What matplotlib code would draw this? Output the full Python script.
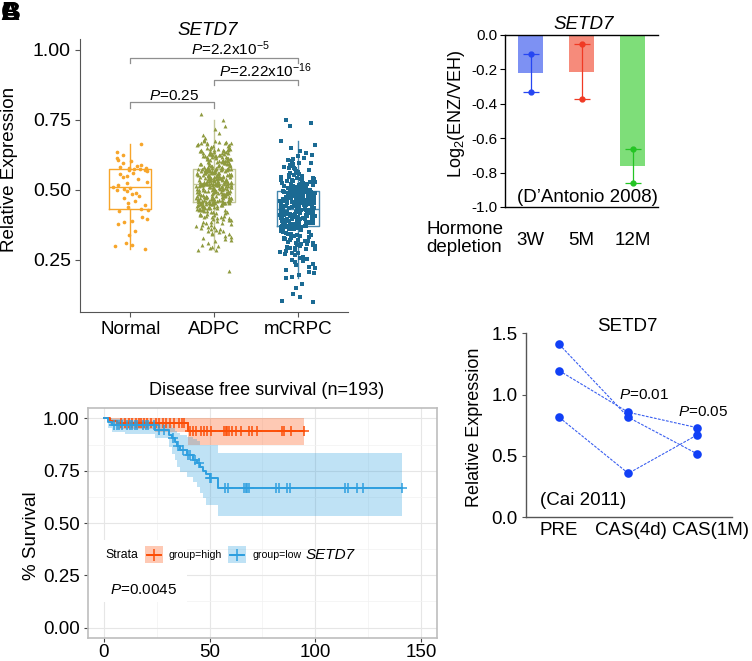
import numpy as np
import matplotlib
matplotlib.use("Agg")
import matplotlib.pyplot as plt
from matplotlib.patches import Rectangle

plt.rcParams['font.family'] = ['Liberation Sans', 'DejaVu Sans']
plt.rcParams['mathtext.fontset'] = 'custom'
plt.rcParams['mathtext.rm'] = 'Liberation Sans'
plt.rcParams['mathtext.it'] = 'Liberation Sans:italic'
plt.rcParams['axes.unicode_minus'] = False

# ---------------- data ----------------
# panel A: relative expression (x1000)
groupsA = ['Normal', 'ADPC', 'mCRPC']
normal = [290, 298, 305, 312, 340, 352, 378, 385, 390, 398, 405, 425, 428,
          432, 440, 448, 455, 462, 470, 478, 485, 490, 495, 500, 505, 508,
          512, 518, 525, 530, 538, 545, 550, 556, 562, 566, 570, 572, 574,
          576, 578, 580, 582, 585, 590, 598, 603, 608, 615, 625, 635, 665]
adpc = [210, 284, 287, 291, 296, 301, 305, 311, 316, 320, 325, 329, 333, 337, 341, 344, 347, 350,
        353, 355, 358, 360, 362, 365, 367, 369, 372, 374, 376, 378, 381, 383, 385, 387, 389, 391, 393, 395, 397, 399,
        400, 402, 403, 405, 406, 408, 409, 411, 412, 414, 415, 417, 418, 420, 421, 423, 424, 425, 427, 428,
        429, 430, 431, 432, 433, 434, 435, 436, 437, 438, 439, 440, 441, 442, 443, 444, 445, 446, 447, 448,
        449, 449, 450, 450, 451, 451, 452, 452, 453, 453, 454, 454, 455, 455, 456, 456, 457, 457, 457, 457,
        458, 459, 459, 460, 461, 461, 462, 463, 463, 464, 465, 465, 466, 467, 467, 468, 469, 469, 470, 471,
        471, 472, 473, 473, 474, 475, 475, 476, 477, 477, 478, 479, 479, 480, 481, 481, 482, 483, 483, 484,
        485, 485, 486, 487, 487, 488, 489, 489, 490, 491, 491, 492, 493, 493, 494, 495, 495, 496, 497, 497,
        498, 499, 499, 500, 501, 501, 502, 503, 503, 504, 505, 505, 506, 507, 507, 508, 509, 509, 510, 511,
        511, 512, 513, 513, 514, 515, 515, 516, 517, 517, 518, 518, 519, 519, 519, 520, 520, 520, 520, 520,
        521, 521, 522, 522, 523, 523, 524, 525, 525, 526, 526, 527, 528, 528, 529, 529, 530, 531, 531, 532,
        532, 533, 534, 534, 535, 535, 536, 537, 537, 538, 538, 539, 540, 540, 541, 541, 542, 543, 543, 544,
        544, 545, 546, 546, 547, 547, 548, 549, 549, 550, 550, 551, 552, 552, 553, 553, 554, 555, 555, 556,
        556, 557, 558, 558, 559, 559, 560, 561, 561, 562, 562, 563, 564, 564, 565, 565, 566, 567, 567, 568,
        568, 569, 569, 570, 570, 571, 571, 572, 572, 573, 573, 574, 574, 574, 575, 575, 575, 575, 575, 575,
        576, 577, 578, 579, 580, 581, 582, 583, 584, 585, 586, 587, 588, 589, 590, 591, 592, 593, 594, 595,
        596, 597, 598, 599, 600, 601, 602, 603, 604, 605, 606, 607, 608, 609, 610, 611, 612, 613, 614, 615,
        616, 617, 618, 619, 620, 621, 622, 623, 624, 625, 626, 627, 628, 629, 630, 631, 632, 633, 634, 635,
        636, 637, 638, 639, 640, 641, 642, 643, 644, 645, 646, 647, 648, 649, 650, 652, 654, 656, 658, 660,
        662, 664, 665, 666, 667, 668, 669, 670, 672, 674, 676, 678, 680, 685, 695, 705, 718, 730, 750, 770]
mcrpc = [100, 105, 118, 130, 150, 165,
         186, 190, 196, 202, 208, 214, 220, 226, 232, 237, 242, 246, 250, 254,
         258, 262, 266, 270, 273, 276, 279, 282, 285, 288, 290, 292, 294, 296, 298, 300, 302, 304, 306, 308,
         310, 312, 314, 316, 318, 320, 322, 324, 326, 328, 330, 332, 334, 336, 338, 340, 342, 344, 346, 348,
         350, 351, 353, 354, 356, 357, 359, 360, 362, 363, 364, 366, 367, 368, 369,
         370, 371, 372, 373, 373, 374, 375, 376, 377, 378, 378, 379, 380, 381, 382, 383, 383, 384, 385, 386,
         387, 388, 388, 389, 390, 391, 392, 393, 393, 394, 395, 396, 397, 398, 398, 399, 400, 401, 402, 403,
         403, 404, 405, 406, 407, 408, 408, 409, 410, 411, 412, 413, 413, 414, 415, 416, 417, 418, 418, 419,
         420, 421, 422, 423, 423, 424, 425, 426, 427, 428, 428, 429, 429, 430, 430,
         431, 432, 433, 434, 435, 436, 437, 437, 438, 439, 440, 441, 442, 443, 444, 445, 446, 446, 447, 448,
         449, 450, 451, 452, 453, 454, 455, 455, 456, 457, 458, 459, 460, 461, 462, 463, 464, 464, 465, 466,
         467, 468, 469, 470, 471, 472, 473, 473, 474, 475, 476, 477, 478, 479, 480, 481, 482, 482, 483, 484,
         485, 486, 487, 488, 489, 490, 491, 491, 492, 493, 493, 494, 494, 495, 495,
         496, 497, 498, 499, 500, 501, 502, 503, 504, 505, 506, 507, 508, 509, 510, 511, 512, 513, 514, 515,
         516, 518, 519, 520, 522, 523, 524, 526, 527, 528, 530, 531, 532, 534, 535, 536, 538, 540, 542, 544,
         545, 546, 548, 550, 553, 555, 556, 559, 562, 565, 568, 571, 574, 577, 580, 583, 586, 589, 592, 595,
         598, 602, 606, 610, 615, 620, 626, 632, 640, 650, 660, 675, 730, 740, 750]
pvalsA = [r'$\it{P}$=0.25', r'$\it{P}$=2.22x10$^{-16}$', r'$\it{P}$=2.2x10$^{-5}$']

# panel B: log2(ENZ/VEH)
groupsB = ['3W', '5M', '12M']
meanB = [-0.222, -0.213, -0.761]
errB = [0.110, 0.159, 0.101]

# panel C: Kaplan-Meier, disease free survival
high_t = [0, 3, 6, 24, 40, 94.4]
high_s = [1.0, 0.99, 0.976, 0.976, 0.94, 0.94]
high_lo = [1.0, 0.965, 0.95, 0.935, 0.873, 0.873]
high_hi = [1.0, 1.0, 1.0, 1.0, 1.0, 1.0]
high_cens = [8, 10, 11.9, 13.5, 15.1, 16.7, 17.5, 19, 20.6, 22.2, 24.6, 26.2, 27.8, 29.4, 31.4,
             33.3, 35.7, 36.8, 38, 40.5, 42, 43.7, 46, 47.3, 48.7, 50.8, 56.7, 57.6, 58.4, 59.2,
             60.8, 62.4, 64.6, 68.7, 69.8, 72.5, 84.1, 85.2, 88.4, 94.4]
low_t = [0, 2, 4, 10, 24, 31, 32, 33.5, 34.5, 36, 39.5, 42, 44, 45.5, 47, 48.5, 50, 54, 140.8]
low_s = [1.0, 0.985, 0.969, 0.969, 0.946, 0.922, 0.906, 0.885, 0.866, 0.848, 0.826, 0.803,
         0.786, 0.768, 0.75, 0.735, 0.715, 0.667, 0.667]
low_hi = [1.0, 1.0, 0.995, 0.99, 0.985, 0.97, 0.955, 0.94, 0.93, 0.92, 0.91, 0.90, 0.89,
          0.873, 0.873, 0.873, 0.873, 0.833, 0.833]
low_lo = [1.0, 0.955, 0.936, 0.924, 0.905, 0.865, 0.83, 0.80, 0.77, 0.745, 0.72, 0.698, 0.67,
          0.643, 0.62, 0.587, 0.587, 0.535, 0.535]
low_cens = [4.8, 6, 7.1, 8.7, 11.1, 12.4, 13.5, 14.6, 15.9, 18.7, 19.8, 21, 23.8, 26.2, 28.6,
            32.5, 35, 37.3, 39.7, 40.5, 42.9, 45.2, 50, 50.8, 57.1, 58.7, 66.3, 67.1, 67.9, 68.7,
            81.4, 83, 86.5, 88.1, 113.8, 115.4, 119.5, 122.5, 140.8]

# panel D: paired samples (Cai 2011)
groupsD = ['PRE', 'CAS(4d)', 'CAS(1M)']
pairsD = [[1.41, 0.815, 0.516],
          [1.195, 0.856, 0.73],
          [0.815, 0.358, 0.673]]

W, H = 752.0, 661.0


def box(l, t, r, b):
    # pixel box -> figure fraction
    return [l / W, 1 - b / H, (r - l) / W, (b - t) / H]


def jitter(n, width):
    # fixed hash-style scatter of x offsets (position only, no data)
    h = np.sin(np.arange(1, n + 1) * 12.9898) * 43758.5453
    return (h - np.floor(h) - 0.5) * width


fig = plt.figure(figsize=(7.52, 6.61), dpi=100)

# ---------------- panel A ----------------
axA = fig.add_axes(box(80, 38.8, 348, 312))
colsA = ['#F7A52A', '#8E9A3E', '#1B6A93']
boxcolA = ['#F7A52A', '#C3C79A', '#4487AE']
marks = ['o', '^', 's']
sizes = [7, 8, 5.5]
valsA = [np.array(normal) / 1000, np.array(adpc) / 1000, np.array(mcrpc) / 1000]
bp = axA.boxplot(valsA, positions=[1, 2, 3], widths=0.5, showfliers=False,
                 showcaps=False, whis=1.5)
for i in range(3):
    for key in ['boxes', 'medians']:
        bp[key][i].set(color=boxcolA[i], lw=1.0)
    for w in bp['whiskers'][2 * i:2 * i + 2]:
        w.set(color=boxcolA[i], lw=1.0)
    axA.scatter(i + 1 + jitter(len(valsA[i]), 0.42), valsA[i], s=sizes[i], marker=marks[i],
                color=colsA[i], linewidths=0, zorder=3)
brackets = [(1, 2, 0.813, 0.794), (2, 3, 0.893, 0.875), (1, 3, 0.970, 0.952)]
for a, b, top, low in brackets:
    axA.plot([a, a, b, b], [low, top, top, low], color='#8f8f8f', lw=0.9, clip_on=False)
for txt, x, y in zip(pvalsA, [1.52, 2.62, 2.19], [0.822, 0.905, 0.982]):
    axA.text(x, y, txt, ha='center', va='baseline', fontsize=11)
axA.set_xlim(0.4, 3.6)
axA.set_ylim(0.064, 1.04)
axA.set_xticks([1, 2, 3])
axA.set_xticklabels(groupsA, fontsize=13.5)
axA.set_yticks([0.25, 0.5, 0.75, 1.0])
axA.set_yticklabels(['0.25', '0.50', '0.75', '1.00'], fontsize=14)
for s in ['top', 'right']:
    axA.spines[s].set_visible(False)
for s in ['left', 'bottom']:
    axA.spines[s].set_color('#555555')
axA.tick_params(length=3.5, color='#555555', pad=3)
axA.text(0.476, 1.03, 'SETD7', style='italic', fontsize=13.5, ha='center', va='center',
         transform=axA.transAxes)
axA.text(-0.262, 0.523, 'Relative Expression', rotation=90, fontsize=13.5, ha='center',
         va='center', transform=axA.transAxes)

# ---------------- panel B ----------------
axB = fig.add_axes(box(505, 35, 658, 207))
barcol = ['#7D91F3', '#F68B7B', '#7EDE79']
linecol = ['#2646F2', '#F03A24', '#24C424']
xB = np.arange(3)
axB.bar(xB, meanB, width=0.5, color=barcol)
for i in range(3):
    lo, hi = meanB[i] - errB[i], meanB[i] + errB[i]
    axB.errorbar(xB[i], meanB[i], yerr=errB[i], fmt='none', ecolor=linecol[i],
                 elinewidth=0.9, capsize=6, capthick=0.9)
    axB.plot([xB[i], xB[i]], [lo, hi], 'o', color=linecol[i], ms=3.5)
axB.set_xlim(-0.5, 2.5)
axB.set_ylim(-1.0, 0.0)
axB.set_yticks([0.0, -0.2, -0.4, -0.6, -0.8, -1.0])
axB.set_yticklabels(['0.0', '-0.2', '-0.4', '-0.6', '-0.8', '-1.0'], fontsize=11)
axB.set_xticks([])
axB.spines['right'].set_visible(False)
for s in ['top', 'left', 'bottom']:
    axB.spines[s].set_linewidth(1.0)
axB.tick_params(axis='y', length=3.5, pad=2)
for i, g in enumerate(groupsB):
    axB.text(xB[i], -0.192, g, fontsize=13.5, ha='center', va='center',
             transform=axB.get_xaxis_transform())
axB.text(-0.516, -0.185, 'Hormone\ndepletion', fontsize=13.5, ha='left', va='center',
         linespacing=1.05, transform=axB.transAxes)
axB.text(1.108, -0.942, '(D\u2019Antonio 2008)', fontsize=13.5, ha='center', va='center')
axB.text(0.512, 1.06, 'SETD7', style='italic', fontsize=13.5, ha='center', va='center',
         transform=axB.transAxes)
axB.text(-0.32, 0.545, r'Log$_2$(ENZ/VEH)', rotation=90, fontsize=13, ha='center',
         va='center', transform=axB.transAxes)

# ---------------- panel C ----------------
axC = fig.add_axes(box(88, 408, 437, 638))
c_high, c_low = '#FC4E07', '#2E9FDF'
axC.set_xlim(-7.5, 157.5)
axC.set_ylim(-0.05, 1.05)
axC.set_xticks([0, 50, 100, 150])
axC.set_xticks([25, 75, 125], minor=True)
axC.set_yticks([0, 0.25, 0.5, 0.75, 1.0])
axC.set_yticks([0.125, 0.375, 0.625, 0.875], minor=True)
axC.set_yticklabels(['0.00', '0.25', '0.50', '0.75', '1.00'], fontsize=13.5)
axC.set_xticklabels(['0', '50', '100', '150'], fontsize=13.5)
axC.grid(True, which='major', color='#e6e6e6', lw=0.8)
axC.grid(True, which='minor', color='#f2f2f2', lw=0.5)
axC.set_axisbelow(True)
axC.tick_params(which='major', length=3, color='#444444', pad=3)
axC.tick_params(axis='x', which='major', pad=1)
axC.tick_params(which='minor', length=0)
for s in axC.spines.values():
    s.set_color('#bdbdbd')
    s.set_linewidth(1.2)
for t, s, lo, hi, cens, col in [(high_t, high_s, high_lo, high_hi, high_cens, c_high),
                                (low_t, low_s, low_lo, low_hi, low_cens, c_low)]:
    axC.fill_between(t, lo, hi, step='post', color=col, alpha=0.3, lw=0)
    axC.step(t, s, where='post', color=col, lw=1.4)
    idx = np.searchsorted(t, cens, side='right') - 1
    axC.plot(cens, np.array(s)[idx], '+', color=col, ms=6.5, mew=1.1)
axC.add_patch(Rectangle((0.0, 0.157), 0.285, 0.27, transform=axC.transAxes,
                        facecolor='white', edgecolor='none', zorder=1.5))
axC.text(0.0487, 0.361, 'Strata', fontsize=8.8, ha='left', va='center', transform=axC.transAxes)
for x0, col, lab in [(0.163, c_high, 'group=high'), (0.401, c_low, 'group=low')]:
    axC.add_patch(Rectangle((x0, 0.325), 0.051, 0.075, transform=axC.transAxes,
                            facecolor=col, alpha=0.3, edgecolor='none', zorder=3))
    axC.plot([x0 + 0.005, x0 + 0.046], [0.3625, 0.3625], color=col, lw=1.4,
             transform=axC.transAxes, zorder=4)
    axC.plot([x0 + 0.0255], [0.3625], '+', color=col, ms=8, mew=1.1,
             transform=axC.transAxes, zorder=4)
    axC.text(x0 + 0.069, 0.361, lab, fontsize=7.6, ha='left', va='center',
             transform=axC.transAxes, zorder=4)
axC.text(0.622, 0.363, 'SETD7', style='italic', fontsize=11, ha='left', va='center',
         transform=axC.transAxes, zorder=4)
axC.text(0.063, 0.209, r'$\it{P}$=0.0045', fontsize=11, ha='left', va='center',
         transform=axC.transAxes, zorder=4)
axC.text(0.513, 1.075, 'Disease free survival (n=193)', fontsize=13, ha='center',
         va='center', transform=axC.transAxes)
axC.text(-0.161, 0.446, '% Survival', rotation=90, fontsize=13.5, ha='center', va='center',
         transform=axC.transAxes)

# ---------------- panel D ----------------
axD = fig.add_axes(box(526, 333.3, 732, 517.3))
xD = np.arange(3)
for p in pairsD:
    axD.plot(xD, p, color='#3a5ff0', lw=0.8, ls=(0, (2.5, 1.2)))
    axD.plot(xD, p, 'o', color='#1140F6', ms=6.2, mew=0)
axD.set_xlim(-0.48, 2.5)
axD.set_ylim(0, 1.5)
axD.set_yticks([0, 0.5, 1.0, 1.5])
axD.set_yticklabels(['0.0', '0.5', '1.0', '1.5'], fontsize=13.5)
axD.set_xticks([])
for xl, g in zip([0.0, 1.04, 2.19], groupsD):
    axD.text(xl, -0.07, g, fontsize=13.5, ha='center', va='center',
             transform=axD.get_xaxis_transform())
axD.tick_params(axis='y', length=3, pad=3, color='#555555')
for s in ['top', 'right']:
    axD.spines[s].set_visible(False)
for s in ['left', 'bottom']:
    axD.spines[s].set_color('#555555')
    axD.spines[s].set_linewidth(1.0)
axD.text(1.23, 0.997, r'$\it{P}$=0.01', fontsize=11, ha='center', va='center')
axD.text(2.08, 0.858, r'$\it{P}$=0.05', fontsize=11, ha='center', va='center')
axD.text(0.34, 0.141, '(Cai 2011)', fontsize=13.5, ha='center', va='center')
axD.text(0.49, 1.036, 'SETD7', fontsize=13.5, ha='center', va='center', transform=axD.transAxes)
axD.text(-0.252, 0.49, 'Relative Expression', rotation=90, fontsize=13, ha='center',
         va='center', transform=axD.transAxes)

# overlapping panel letters in the corner
for letter in ['A', 'B', 'C']:
    fig.text(0.001, 0.999, letter, fontsize=19, fontweight='bold', ha='left', va='top')

fig.savefig('out.png', dpi=100)
